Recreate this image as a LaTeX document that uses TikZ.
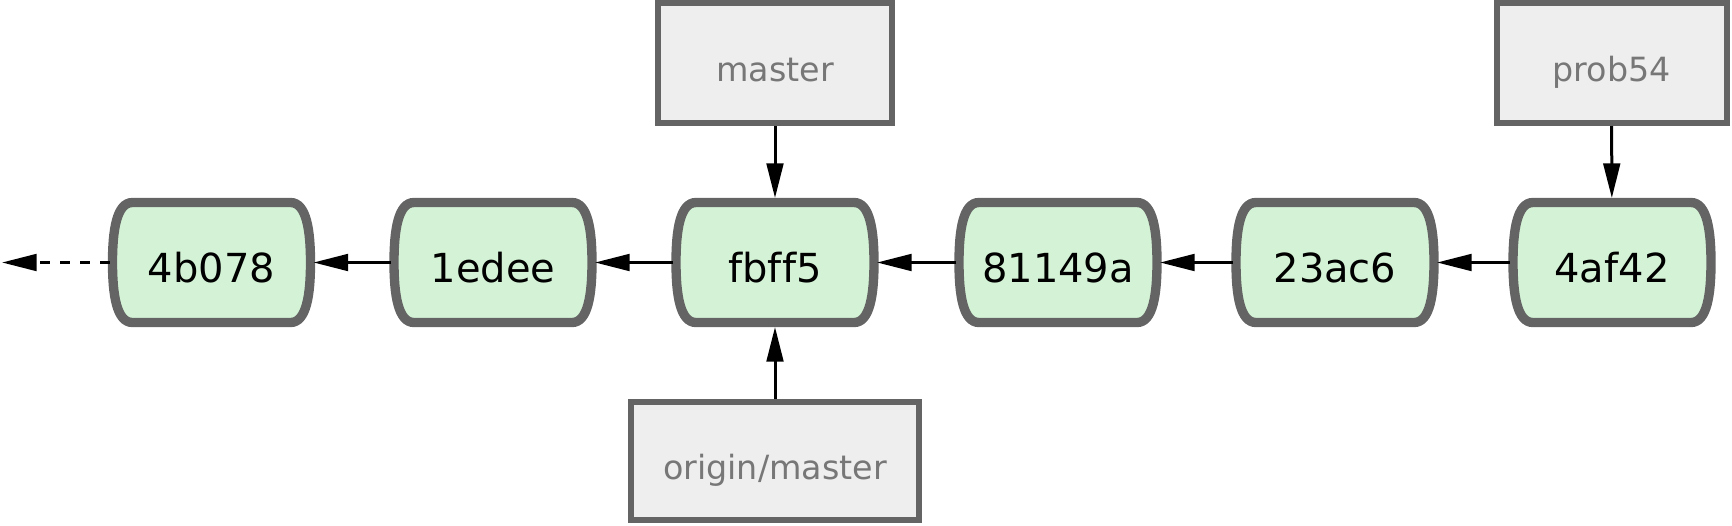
\documentclass[tikz,border=0pt]{standalone}
\usepackage{fontspec}
\setmainfont[Ligatures={NoCommon,NoRequired}]{DejaVu Sans}
\usetikzlibrary{arrows.meta}
\definecolor{commitfill}{HTML}{D4F3D6}
\definecolor{edgegray}{HTML}{646464}
\definecolor{labelfill}{HTML}{EEEEEE}
\definecolor{labeltext}{HTML}{777777}
\tikzset{
  commit/.style={draw=none, minimum width=153pt, minimum height=96.75pt,
    inner sep=0pt, outer sep=0pt, font=\fontsize{30}{36}\selectfont,
    text height=30pt, text depth=0pt},
  commitedge/.style={draw=edgegray, fill=commitfill, line width=7pt},
  branch/.style={draw=edgegray, fill=labelfill, line width=4.5pt, inner sep=0pt,
    minimum height=90pt, text=labeltext, font=\fontsize{25}{30}\selectfont,
    text height=28pt, text depth=0pt},
  arr/.style={-{Triangle[length=26pt,width=12.5pt]}, line width=2.25pt, draw=black},
  dasharr/.style={arr, dash pattern=on 7pt off 8pt}
}
\newcommand\commitat[3]{%
  \begin{scope}[shift={(#2,262.5)}]
    \path[commitedge] (-79,-60) -- (79,-60)
      .. controls (95,-60) and (99,-32) .. (99,0)
      .. controls (99,32) and (95,60) .. (79,60) -- (-79,60)
      .. controls (-95,60) and (-99,32) .. (-99,0)
      .. controls (-99,-32) and (-95,-60) .. (-79,-60) -- cycle;
  \end{scope}
  \node[commit] (#1) at (#2,262.5) {#3};
}
\begin{document}
\begin{tikzpicture}[x=0.75pt, y=-0.75pt]
  \useasboundingbox (0,0) rectangle (1732,525);
  \commitat{c4b}{211.5}{4b078}
  \commitat{c1e}{493}{1edee}
  \commitat{cfb}{775}{fbff5}
  \commitat{c81}{1058}{81149a}
  \commitat{c23}{1335}{23ac6}
  \commitat{c4a}{1612}{4af42}
  \node[branch, minimum width=175.5pt] (master) at (775,63) {master};
  \node[branch, minimum width=216pt, minimum height=88.5pt] (origin) at (775,461) {origin/master};
  \node[branch, minimum width=172.5pt] (prob) at (1611.5,63) {prob54};
  \coordinate (tail) at (2,262.5);
  \draw[dasharr] (c4b) -- (tail);
  \draw[arr] (c1e) -- (c4b);
  \draw[arr] (cfb) -- (c1e);
  \draw[arr] (c81) -- (cfb);
  \draw[arr] (c23) -- (c81);
  \draw[arr] (c4a) -- (c23);
  \draw[arr] (master) -- (cfb);
  \draw[arr] (origin) -- (cfb);
  \draw[arr] (prob) -- (c4a);
\end{tikzpicture}
\end{document}
